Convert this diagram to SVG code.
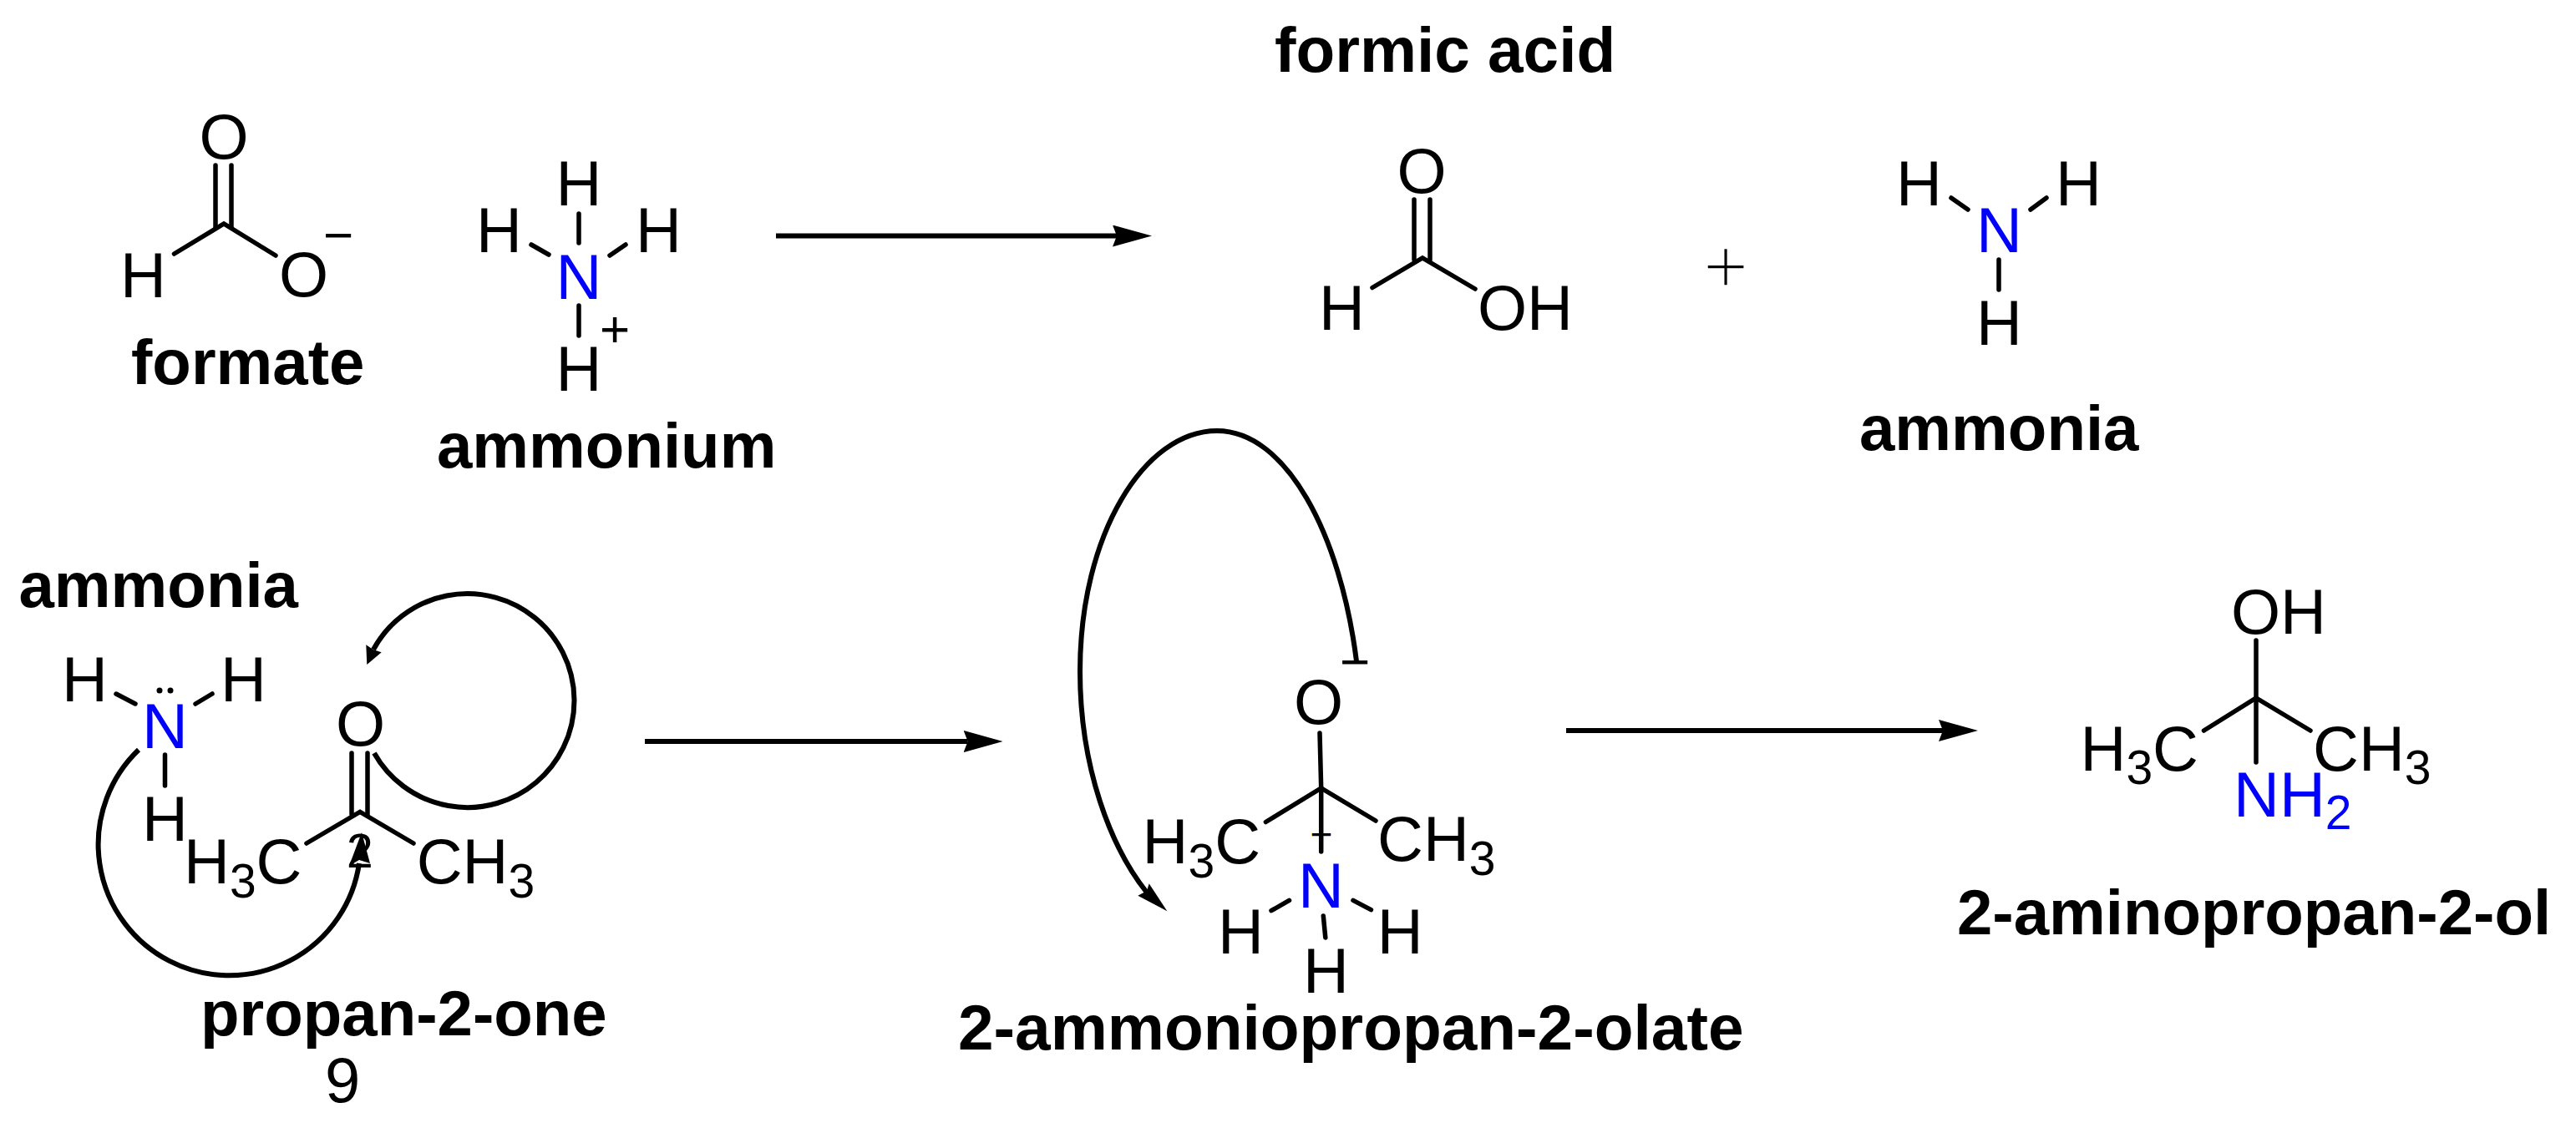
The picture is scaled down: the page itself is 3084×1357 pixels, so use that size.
<svg xmlns="http://www.w3.org/2000/svg" width="3084" height="1357" viewBox="0 0 3084 1357">
<style>
text{font-family:"Liberation Sans",Arial,sans-serif;font-size:76px;fill:#000}
.n{fill:#0000ff}
.l{font-weight:bold;font-size:76.200px}
.s{font-size:57px}
.c{text-anchor:middle}
line,.b{stroke:#000;stroke-width:5.5;stroke-linecap:round;fill:none}
.a{stroke:#000;stroke-width:6;fill:none}
.h{fill:#000;stroke:none}
</style>
<defs>
<marker id="ah" markerUnits="userSpaceOnUse" markerWidth="50" markerHeight="30" refX="5" refY="13" orient="auto"><path d="M0 0L47 13L0 26L5 13Z" fill="#000"/></marker>
</defs>
<rect width="3084" height="1357" fill="#fff"/>
<g id="connectors">
<path class="a" d="M929 282.500H1337" marker-end="url(#ah)"/>
<path class="a" d="M772 888H1158.600" marker-end="url(#ah)"/>
<path class="a" d="M1875 875H2326" marker-end="url(#ah)"/>
<path class="a" d="M166 898A157 157 0 1 0 430 1034"/>
<path class="h" d="M433 997L443 1034L430 1030L418 1037Z"/>
<path class="a" d="M448 902A128 128 0 1 0 447 778"/>
<path class="h" d="M439.300 796L438.300 772.300L446.700 778L456.700 781.300Z"/>
<path class="a" d="M1624 792C1605 640 1540 516 1457 516C1370 516 1293 640 1293 804C1293 920 1330 1015 1373 1069"/>
<path class="h" d="M1397.300 1091.300L1375.700 1058.300L1373 1067L1362.300 1072.700Z"/>
</g>
<g id="formate">
<text x="144" y="355.500">H</text><text x="268" y="190" class="c">O</text><text x="363.500" y="355" class="c">O</text>
<text x="405" y="303" class="c" style="font-size:62px">−</text>
<line x1="258" y1="198" x2="258" y2="272"/><line x1="277" y1="198" x2="277" y2="272"/>
<path class="b" d="M208.500 304L268 268L330 306"/>
<text x="157" y="460" class="l">formate</text>
</g>
<g id="ammonium">
<text x="665.500" y="358" class="n">N</text><text x="665.500" y="246">H</text><text x="570" y="301.500">H</text><text x="761" y="301.500">H</text><text x="665.500" y="467.500">H</text>
<text x="736" y="415" class="c" style="font-size:62px">+</text>
<line x1="693" y1="256" x2="693" y2="291"/><line x1="636" y1="293" x2="657" y2="305"/><line x1="749" y1="293" x2="730" y2="306"/><line x1="693" y1="366" x2="693" y2="402"/>
<text x="523" y="560" class="l">ammonium</text>
</g>
<g id="formic-acid">
<text x="1526" y="86" class="l" style="font-size:76.500px">formic acid</text>
<text x="1702" y="230.500" class="c">O</text><text x="1579" y="395">H</text><text x="1769" y="395">OH</text>
<line x1="1693" y1="239" x2="1693" y2="311"/><line x1="1712" y1="239" x2="1712" y2="311"/>
<path class="b" d="M1643 344.500L1703 309L1766 346"/>
</g>
<text id="plus" x="2066" y="351" class="c" style="font-family:'Liberation Serif',serif;font-size:95px;stroke:#fff;stroke-width:1.500px">+</text>
<g id="ammonia-product">
<text x="2366" y="301.500" class="n">N</text><text x="2270" y="246">H</text><text x="2461" y="246">H</text><text x="2366" y="412.500">H</text>
<line x1="2336" y1="237" x2="2356" y2="251"/><line x1="2450" y1="237" x2="2431" y2="251"/><line x1="2393" y1="311" x2="2393" y2="347"/>
<text x="2226" y="539" class="l">ammonia</text>
</g>
<g id="ammonia-reactant">
<text x="22.500" y="727" class="l">ammonia</text>
<text x="170" y="895.500" class="n">N</text><text x="74" y="840">H</text><text x="264" y="840">H</text><text x="170" y="1007">H</text>
<circle class="h" cx="191" cy="827" r="3.500"/><circle class="h" cx="204" cy="827" r="3.500"/>
<line x1="139" y1="831" x2="162" y2="843"/><line x1="254" y1="831" x2="234" y2="843"/><line x1="197.500" y1="904" x2="197.500" y2="941"/>
</g>
<g id="propan-2-one">
<text x="431.500" y="892.500" class="c">O</text>
<line x1="421" y1="902" x2="421" y2="975"/><line x1="440" y1="902" x2="440" y2="975"/>
<path class="b" d="M367 1010L431 972.500L495 1010"/>
<text x="220" y="1058">H<tspan class="s" dy="17">3</tspan><tspan dy="-17">C</tspan></text>
<text x="498.700" y="1058">CH<tspan class="s" dy="17">3</tspan></text>
<text x="415" y="1039" class="s">2</text>
<text x="240" y="1240" class="l">propan-2-one</text>
<text x="389" y="1320">9</text>
</g>
<g id="ammoniopropanolate">
<text x="1549" y="867">O</text>
<text x="1622" y="814" class="c" style="font-size:62px">−</text>
<line x1="1580" y1="878" x2="1581.700" y2="944"/><path class="b" d="M1515.400 984.500L1581.700 944L1647 983"/><line x1="1581.700" y1="944" x2="1581.700" y2="1020"/>
<text x="1582" y="1015" class="c" style="font-size:46px">+</text>
<text x="1367.600" y="1033.500">H<tspan class="s" dy="17">3</tspan><tspan dy="-17">C</tspan></text>
<text x="1649" y="1030.500">CH<tspan class="s" dy="17">3</tspan></text>
<text x="1554" y="1086.800" class="n">N</text><text x="1458" y="1141.600">H</text><text x="1648.700" y="1141.600">H</text><text x="1560" y="1188.600">H</text>
<line x1="1522" y1="1090.700" x2="1543.500" y2="1078.400"/><line x1="1620" y1="1078.400" x2="1641.400" y2="1089.600"/><line x1="1584.300" y1="1097" x2="1586.800" y2="1123"/>
<text x="1147" y="1257" class="l" style="font-size:76.600px">2-ammoniopropan-2-olate</text>
</g>
<g id="aminopropanol">
<text x="2671" y="758.500">OH</text>
<line x1="2701" y1="767" x2="2701" y2="913"/><path class="b" d="M2638.500 875L2701 836L2766 875"/>
<text x="2490.500" y="923">H<tspan class="s" dy="16">3</tspan><tspan dy="-16">C</tspan></text>
<text x="2769" y="923">CH<tspan class="s" dy="16">3</tspan></text>
<text x="2674" y="978.400" class="n">NH<tspan class="s" dy="15">2</tspan></text>
<text x="2343" y="1119.400" class="l">2-aminopropan-2-ol</text>
</g>
</svg>
